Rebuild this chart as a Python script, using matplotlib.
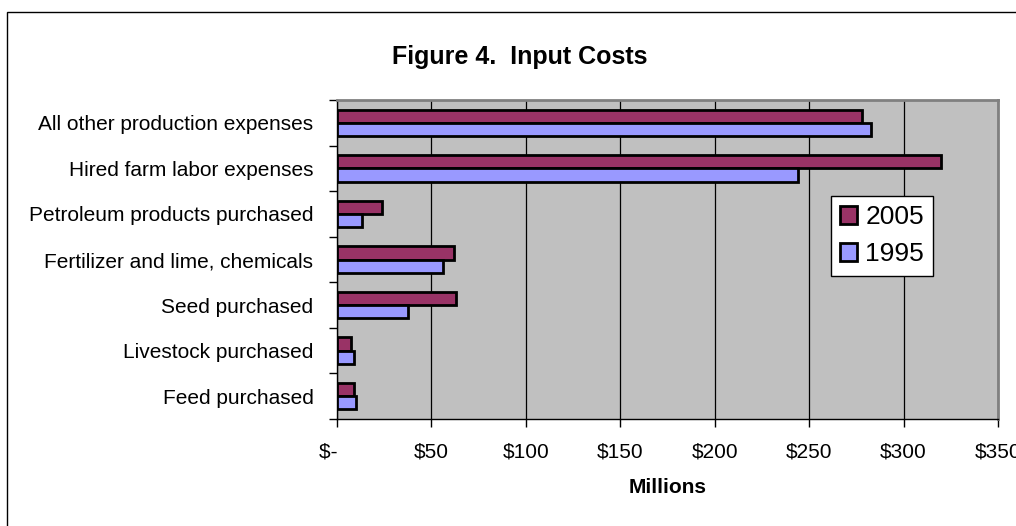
import numpy as np
import matplotlib
matplotlib.use("Agg")
import matplotlib.pyplot as plt
from matplotlib.patches import Rectangle

plt.rcParams["font.family"] = ["Liberation Sans", "DejaVu Sans"]

# Data (top to bottom as in the chart)
categorias = ["All other production expenses", "Hired farm labor expenses",
              "Petroleum products purchased", "Fertilizer and lime, chemicals",
              "Seed purchased", "Livestock purchased", "Feed purchased"]
valores_2005 = [278, 320, 24, 62, 63, 7.6, 8.8]
valores_1995 = [283, 244, 13, 56, 37.5, 8.8, 9.8]
ticks_x = [0, 50, 100, 150, 200, 250, 300, 350]
rotulos_x = ["$-   ", "$50", "$100", "$150", "$200", "$250", "$300", "$350"]

cor_2005 = "#993366"
cor_1995 = "#9999FF"

W, H = 1016, 526
fig = plt.figure(figsize=(W / 100, H / 100), dpi=100)
fig.patch.set_facecolor("white")

esq, dir_, topo, base = 337, 998, 100, 419
ax = fig.add_axes([esq / W, 1 - base / H, (dir_ - esq) / W, (base - topo) / H])
ax.set_facecolor("#C0C0C0")

# categorias de baixo para cima
y = np.arange(len(categorias))[::-1]
altura = 0.29
ax.barh(y + altura / 2, valores_2005, height=altura, color=cor_2005,
        edgecolor="black", linewidth=2, label="2005", zorder=3)
ax.barh(y - altura / 2, valores_1995, height=altura, color=cor_1995,
        edgecolor="black", linewidth=2, label="1995", zorder=3)

ax.set_xlim(0, 350)
ax.set_ylim(-0.5, len(categorias) - 0.5)

ax.set_xticks(ticks_x)
ax.set_xticklabels(rotulos_x, fontsize=15)
ax.tick_params(axis="x", direction="out", length=6, width=1, pad=11)

ax.set_yticks(y)
ax.set_yticklabels(categorias, fontsize=15)
ax.set_yticks(np.arange(-0.5, len(categorias)), minor=True)
ax.tick_params(axis="y", which="major", length=0, pad=17)
ax.tick_params(axis="y", which="minor", direction="out", length=6, width=1)

ax.grid(axis="x", color="black", linewidth=0.9, zorder=1)
ax.set_axisbelow(True)

for lado in ["top", "right"]:
    ax.spines[lado].set_color("#808080")
    ax.spines[lado].set_linewidth(2)
for lado in ["left", "bottom"]:
    ax.spines[lado].set_color("black")
    ax.spines[lado].set_linewidth(1)

ax.set_xlabel("Millions", fontsize=15, fontweight="bold", labelpad=12)

fig.text(520 / W, 1 - 57 / H, "Figure 4.  Input Costs", fontsize=18,
         fontweight="bold", ha="center", va="center")

leg = ax.legend(loc="upper left", bbox_to_anchor=(831 / W, 1 - 196 / H),
                bbox_transform=fig.transFigure, fontsize=19, frameon=True,
                fancybox=False, edgecolor="black", framealpha=1,
                handlelength=0.65, handleheight=0.65, handletextpad=0.3,
                borderpad=0.35, labelspacing=0.5, borderaxespad=0)
leg.get_frame().set_linewidth(1)
for h in leg.legend_handles:
    h.set_linewidth(2)

fig.add_artist(Rectangle((7 / W, -0.1), 1.2, 1 - 12 / H + 0.1,
                         transform=fig.transFigure, fill=False,
                         edgecolor="black", linewidth=1))

fig.savefig("out.png", dpi=100)
